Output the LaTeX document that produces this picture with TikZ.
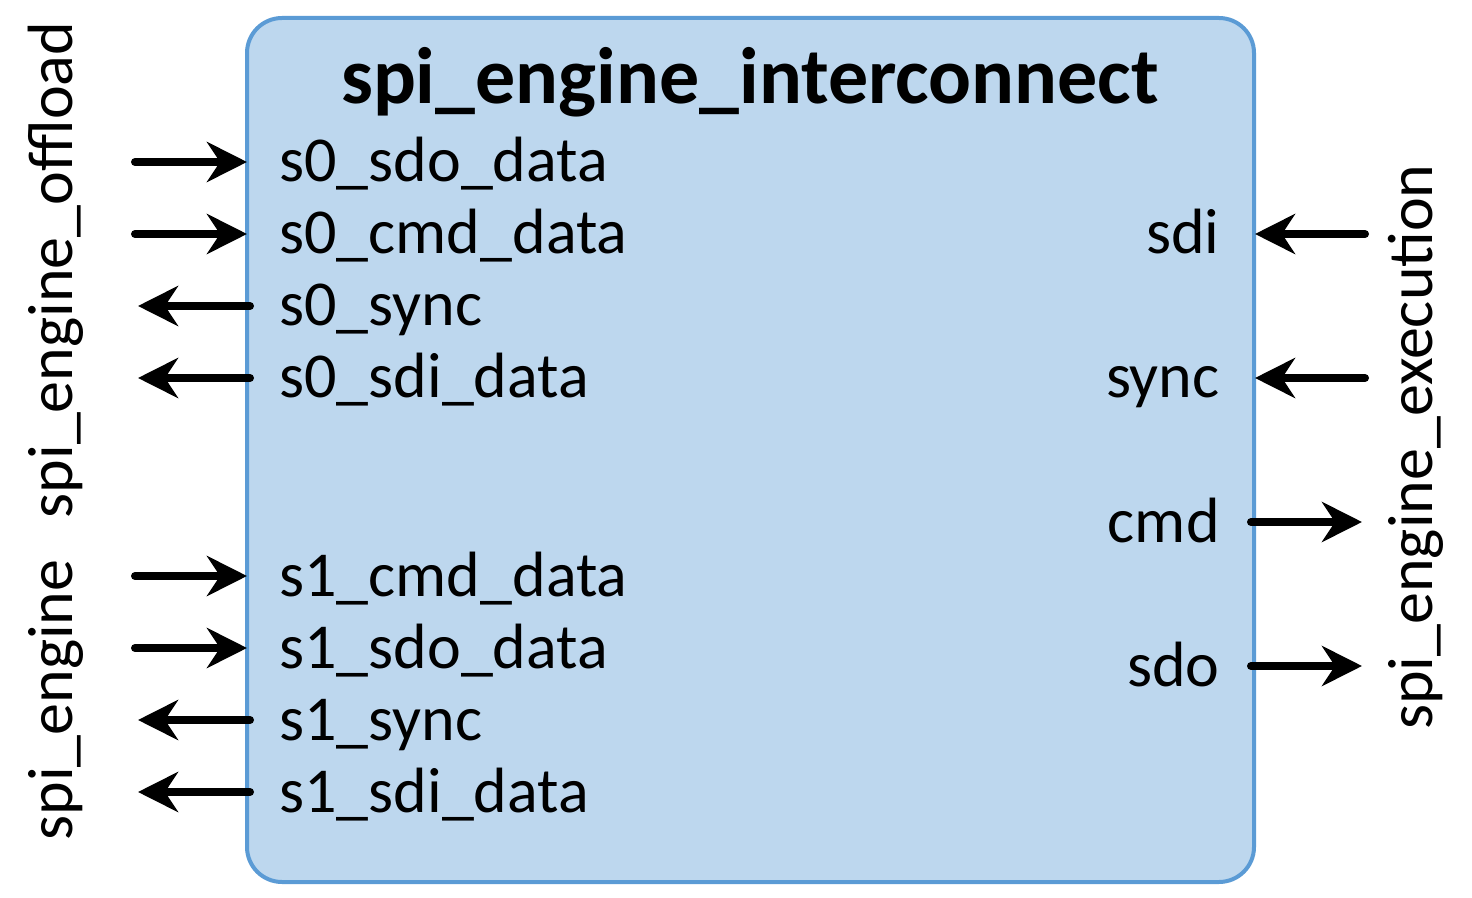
\documentclass[tikz,border=0pt]{standalone}
\usepackage{fontspec}
\setmainfont{Carlito}
\usetikzlibrary{arrows.meta}
\definecolor{boxfill}{HTML}{BDD7EE}
\definecolor{boxline}{HTML}{5B9BD5}
\begin{document}
\begin{tikzpicture}[x=0.5pt,y=-0.5pt,
  portlbl/.style={font=\fontsize{32}{36}\selectfont, inner sep=0pt},
  sidelbl/.style={font=\fontsize{32}{36}\selectfont, inner sep=0pt, rotate=90, anchor=base},
  sig/.style={line width=4pt, line cap=round, -{Stealth[length=20pt,width=20pt,inset=6.5pt]}}]
\useasboundingbox (0,0) rectangle (1472,898);
\draw[boxline, fill=boxfill, line width=2pt, rounded corners=17.5pt] (247,18) rectangle (1254,882);
\node[inner sep=0pt, anchor=base, font=\fontsize{40}{46}\selectfont\bfseries] (title) at (750,104) {spi\_engine\_interconnect};
% left ports
\foreach \n/\y/\t in {a/162/s0\_sdo\_data, b/234/s0\_cmd\_data, c/306/s0\_sync, d/378/s0\_sdi\_data,
                     e/576/s1\_cmd\_data, f/648/s1\_sdo\_data, g/720/s1\_sync, h/792/s1\_sdi\_data}{
  \node[portlbl, anchor=base west] (l\n) at (279,\y+20) {\t};
  \coordinate (le\n) at (247,\y);
}
\coordinate (oa) at (135,162);
\coordinate (ob) at (135,234);
\coordinate (oc) at (138,306);
\coordinate (od) at (138,378);
\coordinate (oe) at (135,576);
\coordinate (of) at (135,648);
\coordinate (og) at (138,720);
\coordinate (oh) at (138,792);
\draw[sig] (oa) -- (lea);
\draw[sig] (ob) -- (leb);
\draw[sig] ([xshift=1.5pt]lec) -- (oc);
\draw[sig] ([xshift=1.5pt]led) -- (od);
\draw[sig] (oe) -- (lee);
\draw[sig] (of) -- (lef);
\draw[sig] ([xshift=1.5pt]leg) -- (og);
\draw[sig] ([xshift=1.5pt]leh) -- (oh);
% right ports
\foreach \n/\y/\t in {p/234/sdi, q/378/sync, r/522/cmd, s/666/sdo}{
  \node[portlbl, anchor=base east] (r\n) at (1220,\y+20) {\t};
  \coordinate (re\n) at (1254,\y);
}
\coordinate (op) at (1365,234);
\coordinate (oq) at (1365,378);
\coordinate (or) at (1362,522);
\coordinate (os) at (1362,666);
\draw[sig] (op) -- ([xshift=0.5pt]rep);
\draw[sig] (oq) -- ([xshift=0.5pt]req);
\draw[sig] ([xshift=-1.5pt]rer) -- (or);
\draw[sig] ([xshift=-1.5pt]res) -- (os);
% side labels
\node[sidelbl] (ifs1) at (72,700) {spi\_engine};
\node[sidelbl] (ifs0) at (72,270) {spi\_engine\_offload};
\node[sidelbl] (ifex) at (1432,447) {spi\_engine\_execution};
\end{tikzpicture}
\end{document}
